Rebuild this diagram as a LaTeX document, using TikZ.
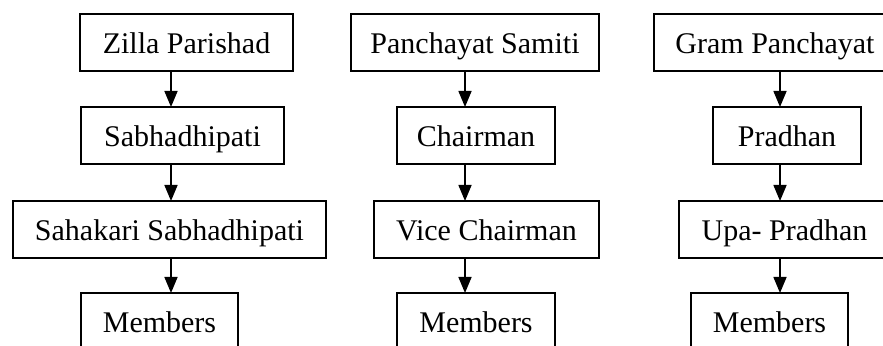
\documentclass[tikz,border=0pt]{standalone}
\usepackage{fontspec}
\setmainfont{Liberation Serif}
\usetikzlibrary{arrows.meta}
\begin{document}
\begin{tikzpicture}[x=0.5pt,y=-0.5pt,
  box/.style={draw,line width=0.8pt,inner sep=0pt,outer sep=0pt,minimum height=28.5pt,
    text height=13.5pt,text depth=2.7pt,font=\fontsize{15}{18}\selectfont},
  conn/.style={line width=0.8pt,-{Triangle[width=6.5pt,length=8pt]}}]
\useasboundingbox (0,0) rectangle (883,346);
\clip (0,0) rectangle (883,346);
% column 1
\node[box,minimum width=106.5pt] (zp) at (186.5,42.5) {Zilla Parishad};
\node[box,minimum width=101.5pt] (sab) at (182.5,135.5) {Sabhadhipati};
\node[box,minimum width=156.5pt] (ss) at (169.5,229.5) {Sahakari Sabhadhipati};
\node[box,minimum width=78.5pt] (m1) at (159.5,321.5) {Members};
\coordinate (c1) at (171,0);
% column 2
\node[box,minimum width=124pt] (ps) at (475,42.5) {Panchayat Samiti};
\node[box,minimum width=79pt] (ch) at (476,135.5) {Chairman};
\node[box,minimum width=112.5pt] (vc) at (486.5,229.5) {Vice Chairman};
\node[box,minimum width=79pt] (m2) at (476,321.5) {Members};
\coordinate (c2) at (465,0);
% column 3
\node[box,minimum width=121pt] (gp) at (775,42.5) {Gram Panchayat};
\node[box,minimum width=74pt] (pr) at (787,135.5) {Pradhan};
\node[box,minimum width=105.5pt] (up) at (784.5,229.5) {Upa- Pradhan};
\node[box,minimum width=78.5pt] (m3) at (769.5,321.5) {Members};
\coordinate (c3) at (780,0);
% connectors
\draw[conn] (zp.south -| c1) -- (sab.north -| c1);
\draw[conn] (sab.south -| c1) -- (ss.north -| c1);
\draw[conn] (ss.south -| c1) -- (m1.north -| c1);
\draw[conn] (ps.south -| c2) -- (ch.north -| c2);
\draw[conn] (ch.south -| c2) -- (vc.north -| c2);
\draw[conn] (vc.south -| c2) -- (m2.north -| c2);
\draw[conn] (gp.south -| c3) -- (pr.north -| c3);
\draw[conn] (pr.south -| c3) -- (up.north -| c3);
\draw[conn] (up.south -| c3) -- (m3.north -| c3);
\end{tikzpicture}
\end{document}
